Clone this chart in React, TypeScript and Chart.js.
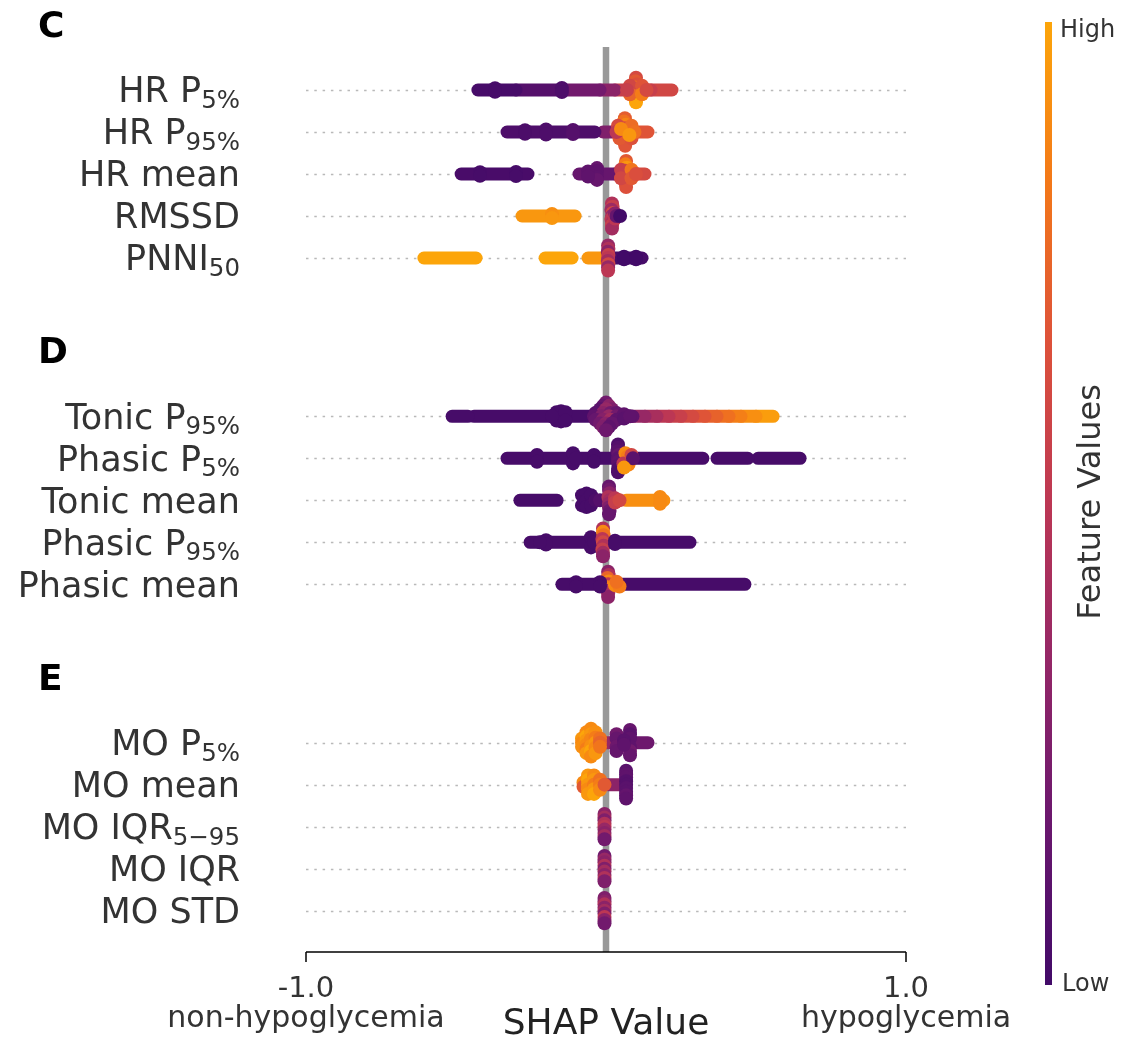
import React, { useEffect, useRef } from 'react';
import { Chart, registerables } from 'chart.js';

Chart.register(...registerables);

// ---------------- data ----------------
const X_MIN = -1;
const X_MAX = 1;
const X_TICKS = [-1, 1];
const X_TICK_LABELS = ['-1.0', '1.0'];
const X_SIDE_LABELS = ['non-hypoglycemia', 'hypoglycemia'];
const X_TITLE = 'SHAP Value';
const COLORBAR_LOW = 'Low';
const COLORBAR_HIGH = 'High';
const COLORBAR_TITLE = 'Feature Values';
const PANEL_LETTERS = ['C', 'D', 'E'];

// feature labels: [main text, subscript]
const PANEL_C_FEATURES = [['HR P', '5%'], ['HR P', '95%'], ['HR mean', ''], ['RMSSD', ''], ['PNNI', '50']];
const PANEL_D_FEATURES = [['Tonic P', '95%'], ['Phasic P', '5%'], ['Tonic mean', ''], ['Phasic P', '95%'], ['Phasic mean', '']];
const PANEL_E_FEATURES = [['MO P', '5%'], ['MO mean', ''], ['MO IQR', '5\u221295'], ['MO IQR', ''], ['MO STD', '']];

// dense runs of SHAP values: [row, shapFrom, shapTo, featureValue(0..1)]
const PANEL_C_RUNS = [
  [0, -0.427, -0.30, 0.02], [0, -0.30, -0.153, 0.08], [0, -0.153, -0.02, 0.2], [0, -0.02, 0.03, 0.3], [0, 0.03, 0.15, 0.55], [0, 0.15, 0.22, 0.6],
  [1, -0.33, -0.037, 0.05], [1, -0.01, 0.04, 0.25], [1, 0.04, 0.14, 0.68],
  [2, -0.483, -0.26, 0.03], [2, -0.09, 0.03, 0.15], [2, 0.03, 0.13, 0.62],
  [3, -0.28, -0.103, 0.95],
  [4, -0.607, -0.433, 1.0], [4, -0.203, -0.113, 1.0], [4, -0.06, -0.01, 0.95], [4, 0.02, 0.12, 0.02],
];
const PANEL_D_RUNS = [
  [0, -0.513, -0.46, 0.02], [0, -0.44, -0.05, 0.02], [0, 0.03, 0.09, 0.12],
  [0, 0.09, 0.13, 0.35], [0, 0.13, 0.17, 0.42], [0, 0.17, 0.21, 0.5], [0, 0.21, 0.25, 0.56], [0, 0.25, 0.29, 0.62],
  [0, 0.29, 0.33, 0.68], [0, 0.33, 0.37, 0.74], [0, 0.37, 0.41, 0.8], [0, 0.41, 0.45, 0.86], [0, 0.45, 0.5, 0.92], [0, 0.5, 0.557, 0.97],
  [1, -0.33, 0.323, 0.02], [1, 0.37, 0.473, 0.02], [1, 0.507, 0.647, 0.02],
  [2, -0.287, -0.163, 0.02], [2, 0.067, 0.193, 0.92],
  [3, -0.253, 0.28, 0.02],
  [4, -0.147, 0.463, 0.02],
];
const PANEL_E_RUNS = [
  [0, -0.003, 0.03, 0.35], [0, 0.03, 0.14, 0.18],
  [1, 0.007, 0.063, 0.3],
];

// individual (stacked) points: [row, shap, verticalOffsetInRows, featureValue(0..1)]
const PANEL_C_POINTS = [
  [0, 0.100, -0.29, 0.62], [0, 0.098, -0.21, 0.7], [0, 0.102, -0.13, 0.66], [0, 0.097, -0.06, 0.8], [0, 0.103, 0.0, 0.72],
  [0, 0.099, 0.06, 0.88], [0, 0.101, 0.13, 0.92], [0, 0.098, 0.21, 0.97], [0, 0.100, 0.29, 1.0],
  [0, 0.08, -0.1, 0.6], [0, 0.08, 0.1, 0.75], [0, 0.12, -0.1, 0.68], [0, 0.12, 0.1, 0.85], [0, 0.07, 0, 0.55], [0, 0.135, 0, 0.62],
  [0, -0.147, -0.05, 0.05], [0, -0.147, 0.05, 0.05], [0, -0.37, -0.04, 0.02], [0, -0.37, 0.04, 0.02],
  [1, 0.063, -0.33, 0.72], [1, 0.06, -0.25, 0.8], [1, 0.066, -0.17, 0.88], [1, 0.062, -0.09, 0.65], [1, 0.065, 0, 0.92],
  [1, 0.06, 0.09, 0.7], [1, 0.066, 0.17, 0.6], [1, 0.062, 0.25, 0.75], [1, 0.064, 0.33, 0.68],
  [1, 0.04, -0.15, 0.62], [1, 0.045, 0.15, 0.7], [1, 0.085, -0.15, 0.78], [1, 0.085, 0.15, 0.66], [1, 0.035, 0, 0.5],
  [1, 0.095, 0, 0.8], [1, 0.05, -0.07, 0.9], [1, 0.078, 0.07, 0.95],
  [1, -0.2, -0.06, 0.05], [1, -0.2, 0.06, 0.05], [1, -0.11, -0.05, 0.08], [1, -0.11, 0.05, 0.08], [1, -0.27, -0.04, 0.04], [1, -0.27, 0.04, 0.04],
  [2, 0.067, -0.31, 0.7], [2, 0.065, -0.23, 0.85], [2, 0.069, -0.15, 0.95], [2, 0.064, -0.08, 0.62], [2, 0.068, 0, 0.78],
  [2, 0.065, 0.08, 0.9], [2, 0.069, 0.15, 0.72], [2, 0.066, 0.23, 0.6], [2, 0.067, 0.31, 0.66],
  [2, 0.05, -0.1, 0.55], [2, 0.05, 0.1, 0.6], [2, 0.085, -0.1, 0.82], [2, 0.085, 0.1, 0.7], [2, 0.1, 0, 0.65],
  [2, -0.03, -0.14, 0.15], [2, -0.03, -0.07, 0.12], [2, -0.03, 0.07, 0.12], [2, -0.03, 0.14, 0.15], [2, -0.06, -0.06, 0.12], [2, -0.06, 0.06, 0.12],
  [2, -0.3, -0.05, 0.02], [2, -0.3, 0.05, 0.02], [2, -0.42, -0.04, 0.02], [2, -0.42, 0.04, 0.02],
  [3, 0.02, -0.3, 0.45], [3, 0.022, -0.22, 0.55], [3, 0.018, -0.15, 0.38], [3, 0.022, -0.07, 0.6], [3, 0.02, 0, 0.35],
  [3, 0.018, 0.07, 0.5], [3, 0.022, 0.15, 0.42], [3, 0.02, 0.22, 0.55], [3, 0.02, 0.3, 0.4],
  [3, 0.03, -0.06, 0.3], [3, 0.03, 0.06, 0.5], [3, 0.035, 0, 0.15], [3, 0.047, 0, 0.0],
  [3, -0.18, -0.05, 0.92], [3, -0.18, 0.05, 0.95],
  [4, 0.007, -0.3, 0.35], [4, 0.008, -0.22, 0.45], [4, 0.006, -0.15, 0.3], [4, 0.008, -0.07, 0.55], [4, 0.007, 0, 0.5],
  [4, 0.006, 0.07, 0.4], [4, 0.008, 0.15, 0.6], [4, 0.007, 0.22, 0.35], [4, 0.007, 0.3, 0.5],
  [4, 0.06, -0.03, 0.0], [4, 0.06, 0.03, 0.0], [4, 0.1, -0.03, 0.0], [4, 0.1, 0.03, 0.0],
];
const PANEL_D_POINTS = [
  [0, -0.165, -0.1, 0.02], [0, -0.165, 0.1, 0.02], [0, -0.15, -0.12, 0.02], [0, -0.15, 0.12, 0.02], [0, -0.135, -0.1, 0.02],
  [0, -0.135, 0.1, 0.02], [0, -0.18, 0, 0.02],
  [0, 0, -0.33, 0.2], [0, -0.01, -0.25, 0.15], [0, 0.01, -0.25, 0.3], [0, -0.02, -0.17, 0.1], [0, 0.02, -0.17, 0.25], [0, 0, -0.17, 0.35],
  [0, -0.035, -0.08, 0.1], [0, -0.01, -0.08, 0.3], [0, 0.015, -0.08, 0.2], [0, 0.035, -0.08, 0.15],
  [0, -0.04, 0, 0.12], [0, -0.015, 0, 0.25], [0, 0.01, 0, 0.35], [0, 0.035, 0, 0.2],
  [0, -0.035, 0.08, 0.15], [0, -0.01, 0.08, 0.28], [0, 0.015, 0.08, 0.4], [0, 0.035, 0.08, 0.12],
  [0, -0.02, 0.17, 0.2], [0, 0, 0.17, 0.3], [0, 0.02, 0.17, 0.15], [0, -0.01, 0.25, 0.25], [0, 0.01, 0.25, 0.12], [0, 0, 0.33, 0.18],
  [0, 0.06, -0.05, 0.12], [0, 0.06, 0.05, 0.1], [0, 0.08, 0, 0.12],
  [1, -0.23, -0.08, 0.02], [1, -0.23, 0.08, 0.02], [1, -0.11, -0.12, 0.02], [1, -0.11, 0.12, 0.02], [1, -0.1, 0, 0.02],
  [1, -0.04, -0.08, 0.02], [1, -0.04, 0.08, 0.02],
  [1, 0.04, -0.33, 0.05], [1, 0.04, -0.25, 0.08], [1, 0.038, -0.17, 0.1], [1, 0.042, -0.08, 0.15], [1, 0.04, 0, 0.1],
  [1, 0.04, 0.08, 0.12], [1, 0.042, 0.17, 0.1], [1, 0.04, 0.25, 0.06], [1, 0.04, 0.33, 0.05],
  [1, 0.065, -0.12, 0.9], [1, 0.072, -0.04, 0.85], [1, 0.08, 0.06, 0.95], [1, 0.075, 0.15, 0.88], [1, 0.058, 0.12, 0.5],
  [1, 0.085, -0.08, 0.6], [1, 0.09, 0, 0.1], [1, 0.06, 0.22, 0.95],
  [2, -0.08, -0.12, 0.02], [2, -0.08, 0.12, 0.02], [2, -0.065, -0.16, 0.02], [2, -0.065, 0, 0.02], [2, -0.065, 0.16, 0.02],
  [2, -0.05, -0.12, 0.02], [2, -0.05, 0.12, 0.02], [2, -0.035, 0, 0.04], [2, -0.02, 0, 0.08],
  [2, 0.01, -0.33, 0.15], [2, 0.01, -0.25, 0.2], [2, 0.012, -0.17, 0.3], [2, 0.008, -0.08, 0.45], [2, 0.012, 0, 0.4],
  [2, 0.01, 0.08, 0.35], [2, 0.01, 0.17, 0.25], [2, 0.012, 0.25, 0.18], [2, 0.01, 0.33, 0.15],
  [2, 0.03, -0.05, 0.5], [2, 0.03, 0.05, 0.55], [2, 0.045, 0, 0.6], [2, 0.18, -0.08, 0.9], [2, 0.18, 0.08, 0.9],
  [3, -0.05, -0.12, 0.02], [3, -0.05, 0.12, 0.02], [3, -0.04, 0, 0.02],
  [3, -0.01, -0.33, 0.45], [3, -0.01, -0.25, 0.9], [3, -0.008, -0.17, 0.8], [3, -0.012, -0.08, 0.5], [3, -0.01, 0, 0.6],
  [3, -0.008, 0.08, 0.45], [3, -0.012, 0.17, 0.55], [3, -0.01, 0.25, 0.4], [3, -0.01, 0.33, 0.3],
  [3, -0.2, -0.05, 0.02], [3, -0.2, 0.05, 0.02], [3, 0.03, -0.04, 0.02], [3, 0.03, 0.04, 0.02], [3, -0.22, 0, 0.02],
  [4, 0.007, -0.3, 0.3], [4, 0.009, -0.22, 0.45], [4, 0.005, -0.15, 0.75], [4, 0.009, -0.07, 0.9], [4, 0.007, 0, 0.5],
  [4, 0.005, 0.07, 0.85], [4, 0.009, 0.15, 0.35], [4, 0.007, 0.22, 0.4], [4, 0.007, 0.3, 0.3],
  [4, 0.03, 0.02, 0.9], [4, 0.045, 0.05, 0.85], [4, 0.035, -0.06, 0.8],
  [4, -0.1, -0.05, 0.02], [4, -0.1, 0.05, 0.02], [4, -0.02, -0.05, 0.02], [4, -0.02, 0.05, 0.02],
];
const PANEL_E_POINTS = [
  [0, -0.08, -0.1, 0.95], [0, -0.08, 0, 0.9], [0, -0.08, 0.1, 0.92],
  [0, -0.065, -0.25, 0.9], [0, -0.065, -0.15, 1.0], [0, -0.065, -0.05, 0.95], [0, -0.065, 0.05, 0.9], [0, -0.065, 0.15, 0.85], [0, -0.065, 0.25, 0.95],
  [0, -0.05, -0.33, 0.9], [0, -0.05, -0.2, 0.95], [0, -0.05, -0.08, 0.88], [0, -0.05, 0.08, 0.92], [0, -0.05, 0.2, 1.0], [0, -0.05, 0.33, 0.9],
  [0, -0.035, -0.25, 0.92], [0, -0.035, -0.12, 0.85], [0, -0.035, 0, 0.95], [0, -0.035, 0.12, 0.9], [0, -0.035, 0.25, 0.95],
  [0, -0.02, -0.1, 0.8], [0, -0.02, 0, 0.75], [0, -0.02, 0.1, 0.82],
  [0, 0.035, -0.2, 0.2], [0, 0.035, -0.1, 0.15], [0, 0.035, 0.1, 0.18], [0, 0.035, 0.2, 0.15],
  [0, 0.08, -0.3, 0.15], [0, 0.08, -0.2, 0.1], [0, 0.08, -0.1, 0.12], [0, 0.08, 0.1, 0.12], [0, 0.08, 0.2, 0.2], [0, 0.08, 0.3, 0.15],
  [0, 0.06, -0.05, 0.1], [0, 0.06, 0.05, 0.12],
  [1, -0.075, -0.05, 0.9], [1, -0.075, 0.05, 0.7], [1, -0.06, -0.22, 0.95], [1, -0.06, -0.11, 1.0], [1, -0.06, 0, 0.95],
  [1, -0.06, 0.11, 0.9], [1, -0.06, 0.22, 0.95], [1, -0.04, -0.22, 0.9], [1, -0.04, -0.11, 0.95], [1, -0.04, 0, 0.85],
  [1, -0.04, 0.11, 0.95], [1, -0.04, 0.22, 1.0], [1, -0.02, -0.12, 0.8], [1, -0.02, 0, 0.85], [1, -0.02, 0.12, 0.9], [1, -0.005, 0, 0.7],
  [1, 0.067, -0.33, 0.1], [1, 0.067, -0.25, 0.12], [1, 0.067, -0.17, 0.12], [1, 0.067, -0.08, 0.08], [1, 0.067, 0, 0.08],
  [1, 0.067, 0.08, 0.1], [1, 0.067, 0.17, 0.1], [1, 0.067, 0.25, 0.14], [1, 0.067, 0.33, 0.12],
  [2, -0.005, -0.3, 0.3], [2, -0.005, -0.22, 0.4], [2, -0.005, -0.15, 0.25], [2, -0.005, -0.07, 0.45], [2, -0.005, 0, 0.5],
  [2, -0.005, 0.07, 0.35], [2, -0.005, 0.15, 0.3], [2, -0.005, 0.22, 0.4], [2, -0.005, 0.3, 0.2],
  [3, -0.005, -0.3, 0.2], [3, -0.005, -0.22, 0.35], [3, -0.005, -0.15, 0.3], [3, -0.005, -0.07, 0.45], [3, -0.005, 0, 0.25],
  [3, -0.005, 0.07, 0.4], [3, -0.005, 0.15, 0.3], [3, -0.005, 0.22, 0.45], [3, -0.005, 0.3, 0.25],
  [4, -0.005, -0.3, 0.25], [4, -0.005, -0.22, 0.3], [4, -0.005, -0.15, 0.45], [4, -0.005, -0.07, 0.3], [4, -0.005, 0, 0.4],
  [4, -0.005, 0.07, 0.25], [4, -0.005, 0.15, 0.5], [4, -0.005, 0.22, 0.3], [4, -0.005, 0.3, 0.2],
];

// ---------------- layout / style ----------------
const W = 1140;
const H = 1037;
const PANEL_STRIDE = 7.77; // rows between first rows of consecutive panels
const Y_TOP = -1.0238;
const Y_BOTTOM = 20.524;
const FONT = '"DejaVu Sans", sans-serif';
const COLOR_STOPS = ['#420a68', '#6a176e', '#932667', '#bc3754', '#dd513a', '#f37819', '#fca50a'];

function hexToRgb(h: string) {
  const n = parseInt(h.slice(1), 16);
  return [(n >> 16) & 255, (n >> 8) & 255, n & 255];
}
function featureColor(c: number) {
  const t = Math.max(0, Math.min(1, c)) * (COLOR_STOPS.length - 1);
  const i = Math.min(Math.floor(t), COLOR_STOPS.length - 2);
  const f = t - i;
  const a = hexToRgb(COLOR_STOPS[i]);
  const b = hexToRgb(COLOR_STOPS[i + 1]);
  const m = a.map((v, k) => Math.round(v + (b[k] - v) * f));
  return `rgb(${m[0]},${m[1]},${m[2]})`;
}

const PANELS = [
  { letter: PANEL_LETTERS[0], features: PANEL_C_FEATURES, runs: PANEL_C_RUNS, points: PANEL_C_POINTS },
  { letter: PANEL_LETTERS[1], features: PANEL_D_FEATURES, runs: PANEL_D_RUNS, points: PANEL_D_POINTS },
  { letter: PANEL_LETTERS[2], features: PANEL_E_FEATURES, runs: PANEL_E_RUNS, points: PANEL_E_POINTS },
];

const rowValue = (panel: number, row: number) => panel * PANEL_STRIDE + row;

const decorPlugin = {
  id: 'shapDecor',
  beforeDatasetsDraw(chart: any) {
    const { ctx, chartArea, scales } = chart;
    const xs = scales.x;
    const ys = scales.y;
    ctx.save();
    ctx.strokeStyle = '#b9b9b9';
    ctx.lineWidth = 1.5;
    ctx.setLineDash([2.5, 5.8]);
    PANELS.forEach((p, pi) => {
      p.features.forEach((_, ri) => {
        const y = Math.round(ys.getPixelForValue(rowValue(pi, ri))) + 0.5;
        ctx.beginPath();
        ctx.moveTo(chartArea.left, y);
        ctx.lineTo(chartArea.right, y);
        ctx.stroke();
      });
    });
    ctx.setLineDash([]);
    const x0 = xs.getPixelForValue(0);
    ctx.strokeStyle = '#999999';
    ctx.lineWidth = 6.5;
    ctx.beginPath();
    ctx.moveTo(x0, chartArea.top);
    ctx.lineTo(x0, chartArea.bottom);
    ctx.stroke();
    ctx.restore();
  },
  afterDraw(chart: any) {
    const { ctx, chartArea, scales } = chart;
    const xs = scales.x;
    const ys = scales.y;
    ctx.save();
    const labelRight = chartArea.left - 66;
    PANELS.forEach((p, pi) => {
      p.features.forEach(([main, sub], ri) => {
        const base = ys.getPixelForValue(rowValue(pi, ri)) + 12.5;
        ctx.font = `35px ${FONT}`;
        const w1 = ctx.measureText(main).width;
        ctx.font = `24.5px ${FONT}`;
        const w2 = sub ? ctx.measureText(sub).width : 0;
        const start = labelRight - w1 - w2;
        ctx.fillStyle = '#333333';
        ctx.textAlign = 'left';
        ctx.textBaseline = 'alphabetic';
        ctx.font = `35px ${FONT}`;
        ctx.fillText(main, start, base);
        if (sub) {
          ctx.font = `24.5px ${FONT}`;
          ctx.fillText(sub, start + w1, base + 5.5);
        }
      });
      ctx.font = `bold 36px ${FONT}`;
      ctx.fillStyle = '#000000';
      ctx.textAlign = 'left';
      ctx.fillText(p.letter, 38, ys.getPixelForValue(rowValue(pi, 0)) - 53);
    });
    const yAxis = chartArea.bottom;
    ctx.strokeStyle = '#000000';
    ctx.lineWidth = 1.5;
    ctx.beginPath();
    ctx.moveTo(chartArea.left, yAxis);
    ctx.lineTo(chartArea.right, yAxis);
    ctx.stroke();
    X_TICKS.forEach((t, i) => {
      const x = xs.getPixelForValue(t);
      ctx.beginPath();
      ctx.moveTo(x, yAxis);
      ctx.lineTo(x, yAxis + 10);
      ctx.stroke();
      ctx.fillStyle = '#333333';
      ctx.textAlign = 'center';
      ctx.font = `29px ${FONT}`;
      ctx.fillText(X_TICK_LABELS[i], x, yAxis + 45);
      ctx.font = `30px ${FONT}`;
      ctx.fillText(X_SIDE_LABELS[i], x, yAxis + 75);
    });
    ctx.font = `36px ${FONT}`;
    ctx.fillStyle = '#222222';
    ctx.textAlign = 'center';
    ctx.fillText(X_TITLE, xs.getPixelForValue(0), yAxis + 82);
    const cbX = 1045;
    const cbTop = 22;
    const cbBottom = 985;
    const grad = ctx.createLinearGradient(0, cbBottom, 0, cbTop);
    COLOR_STOPS.forEach((c, i) => grad.addColorStop(i / (COLOR_STOPS.length - 1), c));
    ctx.fillStyle = grad;
    ctx.fillRect(cbX, cbTop, 7, cbBottom - cbTop);
    ctx.fillStyle = '#333333';
    ctx.textAlign = 'left';
    ctx.font = `24px ${FONT}`;
    ctx.fillText(COLORBAR_HIGH, 1060, 37);
    ctx.fillText(COLORBAR_LOW, 1062, 991);
    ctx.translate(1100, 502);
    ctx.rotate(-Math.PI / 2);
    ctx.textAlign = 'center';
    ctx.font = `32px ${FONT}`;
    ctx.fillText(COLORBAR_TITLE, 0, 0);
    ctx.restore();
  },
};

export default function App() {
  const ref = useRef<HTMLCanvasElement | null>(null);
  useEffect(() => {
    if (!ref.current) return;
    const datasets: any[] = [];
    const pts: any[] = [];
    const ptColors: string[] = [];
    PANELS.forEach((p, pi) => {
      p.points.forEach(([row, x, dy, c]) => {
        pts.push({ x, y: rowValue(pi, row) + dy });
        ptColors.push(featureColor(c));
      });
    });
    datasets.push({
      data: pts,
      backgroundColor: ptColors,
      pointRadius: 7,
      pointBorderWidth: 0,
      showLine: false,
      order: 0,
    });
    PANELS.forEach((p, pi) => {
      p.runs.forEach(([row, x1, x2, c]) => {
        const y = rowValue(pi, row);
        datasets.push({
          data: [{ x: x1, y }, { x: x2, y }],
          showLine: true,
          borderColor: featureColor(c),
          borderWidth: 13,
          borderCapStyle: 'round',
          pointRadius: 0,
          order: 1,
        });
      });
    });
    const chart = new Chart(ref.current, {
      type: 'scatter',
      data: { datasets },
      options: {
        responsive: false,
        animation: false,
        events: [],
        layout: { padding: { left: 306, right: 234, top: 47, bottom: 85 } },
        scales: {
          x: { type: 'linear', min: X_MIN, max: X_MAX, display: false },
          y: { type: 'linear', min: Y_TOP, max: Y_BOTTOM, reverse: true, display: false },
        },
        plugins: { legend: { display: false }, tooltip: { enabled: false } },
      },
      plugins: [decorPlugin],
    } as any);
    return () => chart.destroy();
  }, []);
  return (
    <div style={{ position: 'absolute', left: 0, top: 0, width: W, height: H, background: '#ffffff' }}>
      <canvas ref={ref} width={W} height={H} style={{ display: 'block', width: W, height: H }} />
    </div>
  );
}
